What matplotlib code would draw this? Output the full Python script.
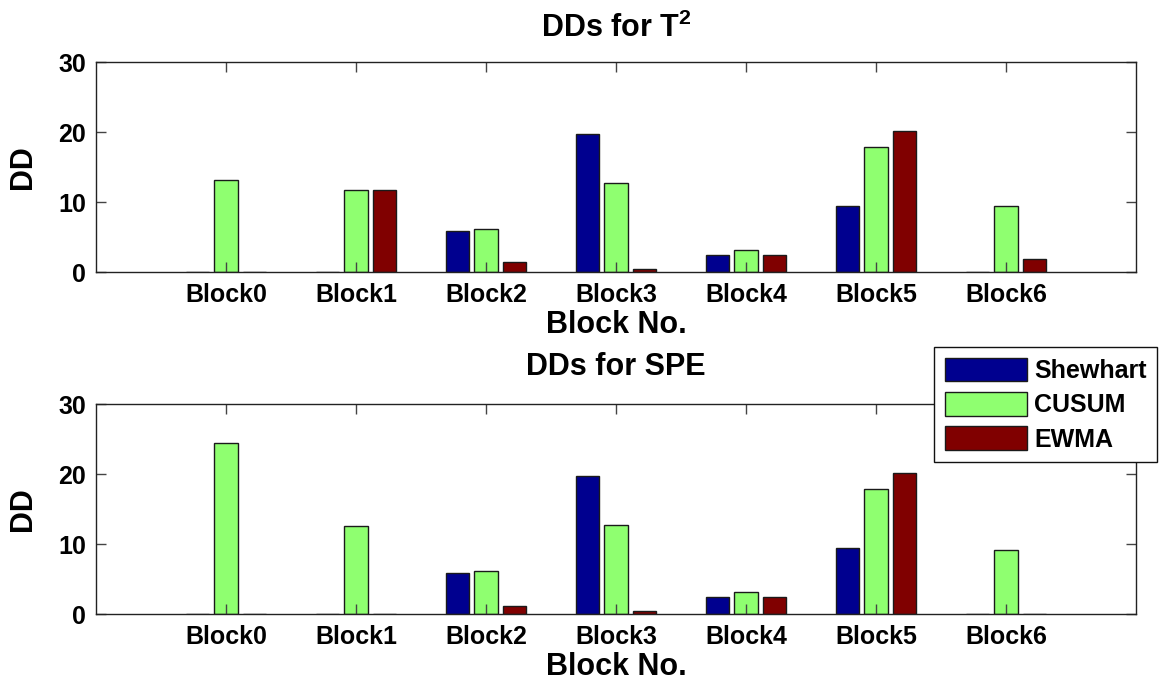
import numpy as np
import matplotlib
matplotlib.use("Agg")
import matplotlib.pyplot as plt

plt.rcParams["font.family"] = ["Liberation Sans", "DejaVu Sans"]
plt.rcParams["font.weight"] = "bold"
plt.rcParams["mathtext.fontset"] = "custom"
plt.rcParams["mathtext.rm"] = "Liberation Sans:bold"
plt.rcParams["mathtext.default"] = "regular"

# Detection delays per block and chart type
blocks = ["Block0", "Block1", "Block2", "Block3", "Block4", "Block5", "Block6"]
methods = ["Shewhart", "CUSUM", "EWMA"]

t2_shewhart = [0, 0, 5.9, 19.7, 2.4, 9.4, 0]
t2_cusum = [13.1, 11.7, 6.1, 12.7, 3.1, 17.9, 9.4]
t2_ewma = [0, 11.7, 1.4, 0.5, 2.4, 20.1, 1.9]

spe_shewhart = [0, 0, 5.9, 19.7, 2.4, 9.4, 0]
spe_cusum = [24.4, 12.6, 6.1, 12.7, 3.1, 17.8, 9.1]
spe_ewma = [0, 0, 1.1, 0.5, 2.4, 20.1, 0]

colors = ["#00008F", "#8FFF70", "#800000"]

W, H = 1164, 686
fig = plt.figure(figsize=(W / 100, H / 100), dpi=100)

ax1 = fig.add_axes([96 / W, 1 - 272 / H, 1040 / W, 210 / H])
ax2 = fig.add_axes([96 / W, 1 - 614 / H, 1040 / W, 210 / H])

x = np.arange(1, len(blocks) + 1)
group = 3 / (3 + 1.5)
step = group / 3
bw = step * 0.8

def draw(ax, series, title, title_pad):
    bars = []
    for i, (vals, c) in enumerate(zip(series, colors)):
        b = ax.bar(x + (i - 1) * step, vals, width=bw, color=c,
                   edgecolor="#1a1a1a", linewidth=1.0, label=methods[i])
        bars.append(b)
    ax.set_xlim(0, 8)
    ax.set_ylim(0, 30)
    ax.set_xticks(x)
    ax.set_xticklabels(blocks)
    ax.set_yticks([0, 10, 20, 30])
    ax.tick_params(direction="in", length=7, width=1.0, top=True, right=True,
                   labelsize=18, color="#444444", pad=8)
    ax.tick_params(axis="y", pad=7)
    for s in ax.spines.values():
        s.set_linewidth(1.0)
        s.set_color("#222222")
    ax.set_xlabel("Block No.", fontsize=22, fontweight="bold", labelpad=2)
    ax.set_ylabel("DD", fontsize=22, fontweight="bold", labelpad=15)
    ax.set_title(title, fontsize=22, fontweight="bold", pad=title_pad)
    return bars

draw(ax1, [t2_shewhart, t2_cusum, t2_ewma], r"DDs for T$^{2}$", 18)
bars = draw(ax2, [spe_shewhart, spe_cusum, spe_ewma], "DDs for SPE", 21)

leg = fig.legend(handles=bars, labels=methods, loc="upper left",
                 bbox_to_anchor=(934 / W, 1 - 347 / H), borderaxespad=0,
                 fontsize=18, frameon=True, fancybox=False, shadow=False,
                 handlelength=3.3, handleheight=1.08, handletextpad=0.28,
                 labelspacing=0.36, borderpad=0.42)
leg.get_frame().set_edgecolor("#111111")
leg.get_frame().set_linewidth(1.0)
leg.get_frame().set_alpha(1)

fig.savefig("out.png", dpi=100)
